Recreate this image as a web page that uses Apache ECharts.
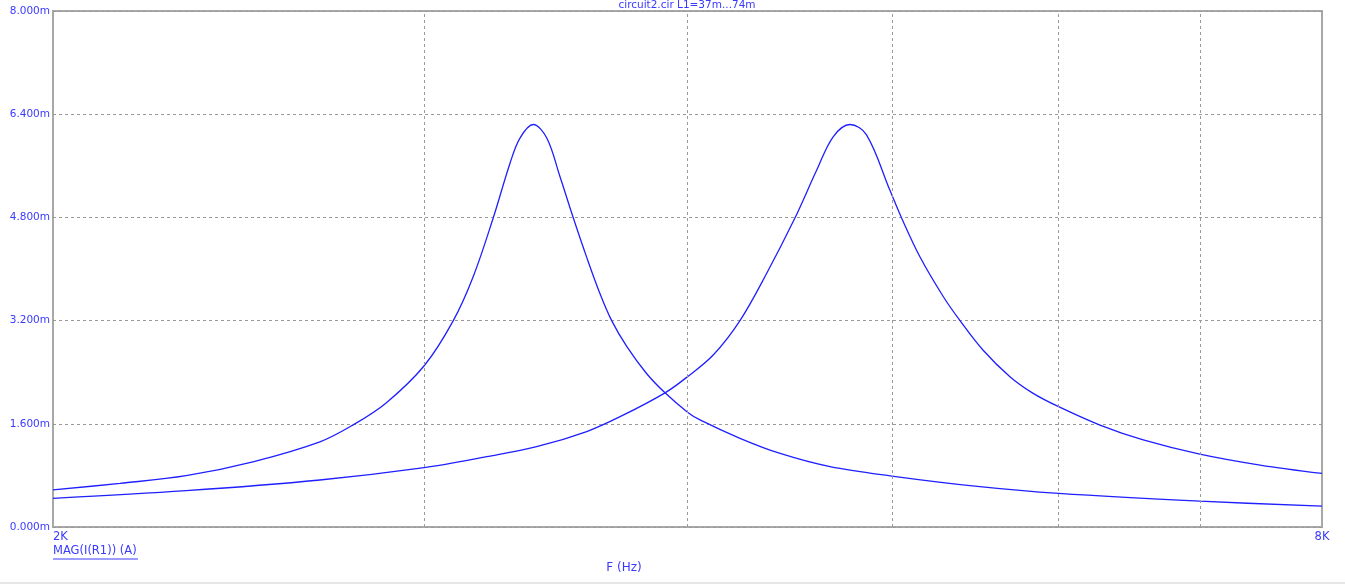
<!DOCTYPE html>
<html>
<head>
<meta charset="utf-8">
<script src="https://cdn.jsdelivr.net/npm/echarts@6/dist/echarts.min.js"></script>
<style>html,body{margin:0;padding:0;background:#fff}#c{width:1345px;height:584px}</style>
</head>
<body>
<div id="c"></div>
<script>
// Frequencies (Hz) and magnitudes (mA)
const freqA = [2000,2152,2313,2488,2677,2775,2877,3000,3097,3165,3235,3295,3331,3380,3430,3480,3531,3583,3635,3682,3743,3825,3903,4000,4055,4236,4426,4674,5000,5505,6000,7000,8000];
const magA  = [0.574,0.677,0.795,1.01,1.32,1.58,1.92,2.50,3.20,3.88,4.79,5.64,6.03,6.24,6.03,5.43,4.79,4.18,3.62,3.20,2.80,2.38,2.08,1.78,1.66,1.375,1.14,0.935,0.79,0.625,0.52,0.40,0.325];
const freqB = [2000,2313,2677,3000,3212,3392,3583,3716,3903,4000,4115,4236,4361,4498,4606,4690,4777,4864,4990,5054,5156,5290,5387,5525,5689,5830,6000,6277,6581,7000,7477,8000];
const magB  = [0.445,0.563,0.729,0.92,1.09,1.245,1.48,1.71,2.08,2.33,2.67,3.20,3.93,4.79,5.53,6.05,6.24,6.08,5.22,4.79,4.19,3.57,3.20,2.74,2.33,2.08,1.865,1.58,1.35,1.13,0.96,0.83];
const xGrid = [3000,4000,5000,6000,7000];
const xTickLabels = {2000:'2K', 8000:'8K'};
const titleText = 'circuit2.cir L1=37m...74m';
const traceLabel = 'MAG(I(R1)) (A)';
const xName = 'F (Hz)';

const blue = '#1f1fff';
const txt = '#3a3aff';
const font = '"DejaVu Sans", Verdana, sans-serif';
const chart = echarts.init(document.getElementById('c'), null, {renderer:'canvas'});
const pairs = (f, m) => f.map((v, i) => [v, m[i]]);
chart.setOption({
  animation:false,
  grid:{left:53, right:23, top:11, bottom:57, show:true, borderColor:'#a8a8a8', borderWidth:2},
  xAxis:{type:'log', logBase:10, min:2000, max:8000,
    axisLine:{show:false}, axisTick:{show:false}, splitLine:{show:false},
    axisLabel:{show:true, showMinLabel:true, showMaxLabel:true, alignMinLabel:'left', alignMaxLabel:'center',
      color:txt, fontFamily:font, fontSize:11.5, margin:4,
      formatter:v=>{const r=Math.round(v); return xTickLabels[r]||'';}}},
  yAxis:{type:'value', min:0, max:8, interval:1.6,
    axisLine:{show:false}, axisTick:{show:false},
    splitLine:{show:true, lineStyle:{color:'#9a9a9a', type:[3,3], width:1}},
    axisLabel:{color:txt, fontFamily:font, fontSize:10.5, margin:3, formatter:v=>v.toFixed(3)+'m'}},
  series:[
    {type:'line', data:pairs(freqA, magA), showSymbol:false, smooth:0.35,
     lineStyle:{color:blue, width:1.3},
     markLine:{silent:true, symbol:'none', label:{show:false},
       lineStyle:{color:'#9a9a9a', type:[3,3], width:1},
       data:xGrid.map(v=>({xAxis:v}))}},
    {type:'line', data:pairs(freqB, magB), showSymbol:false, smooth:0.35,
     lineStyle:{color:blue, width:1.3}}
  ],
  graphic:[
    {type:'text', x:687, y:0, z:100, style:{text:titleText, fill:txt, font:'10.5px '+font, textAlign:'center', textVerticalAlign:'top'}},
    {type:'text', x:53, y:545, style:{text:traceLabel, fill:txt, font:'11.5px '+font, textAlign:'left', textVerticalAlign:'top'}},
    {type:'line', shape:{x1:53, y1:559, x2:138, y2:559}, style:{stroke:txt, lineWidth:1}},
    {type:'text', x:624, y:562, style:{text:xName, fill:txt, font:'12px '+font, textAlign:'center', textVerticalAlign:'top'}},
    {type:'rect', shape:{x:0, y:582, width:1345, height:2}, style:{fill:'#e6e6e6'}}
  ]
});
</script>
</body>
</html>
